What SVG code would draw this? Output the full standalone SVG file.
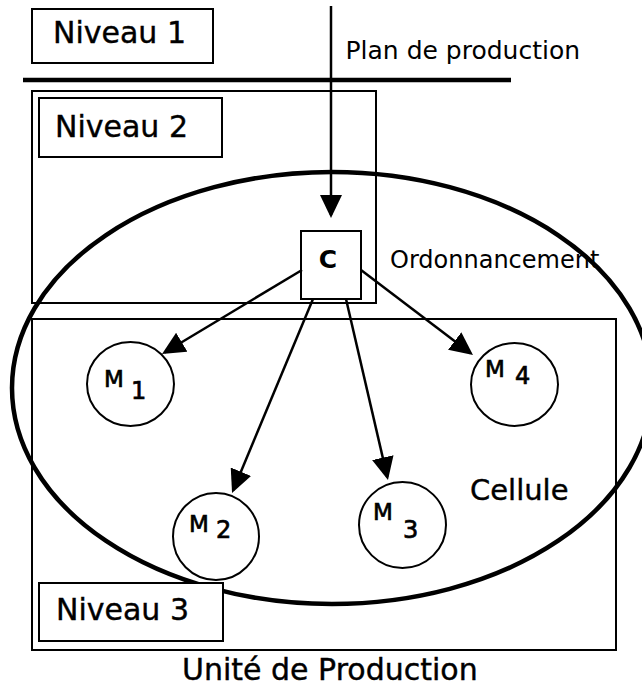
<svg xmlns="http://www.w3.org/2000/svg" width="642" height="688" viewBox="0 0 642 688">
<style>
text { font-family: "DejaVu Sans", "Verdana", sans-serif; fill: #000; }
.box { fill: none; stroke: #000; stroke-width: 2; }
.lbl { fill: #fff; stroke: #000; stroke-width: 2; }
.lvl { font-size: 30px; stroke: #000; stroke-width: 0.4; }
.big { stroke: #000; stroke-width: 0.4; }
.mc { fill: #fff; stroke: #000; stroke-width: 2; }
.ml { stroke: #000; stroke-width: 0.7; }
.mm { font-size: 23px; }
.md { font-size: 24px; }
.conn { stroke: #000; stroke-width: 2.5; fill: none; marker-end: url(#ah); }
</style>
<defs>
<marker id="ah" viewBox="0 0 23 22" markerWidth="23" markerHeight="22" markerUnits="userSpaceOnUse" refX="20" refY="11" orient="auto">
<path d="M0,0 L23,11 L0,22 z" fill="#000"/>
</marker>
</defs>
<rect width="642" height="688" fill="#fff"/>

<g id="niveau1">
<rect class="lbl" x="32" y="9" width="181" height="54"/>
<text class="lvl" x="53" y="43">Niveau 1</text>
</g>

<g id="separator">
<line x1="23" y1="80" x2="511" y2="80" stroke="#000" stroke-width="4.5"/>
</g>

<g id="plan-label">
<text x="345.5" y="59" font-size="25">Plan de production</text>
</g>

<g id="niveau2">
<rect class="box" x="32" y="91" width="344" height="212"/>
<rect class="lbl" x="39" y="98" width="183" height="59"/>
<text class="lvl" x="55" y="137">Niveau 2</text>
</g>

<g id="niveau3">
<rect class="box" x="32" y="319" width="584" height="331"/>
</g>

<g id="cellule">
<ellipse cx="332" cy="388" rx="320" ry="216" fill="none" stroke="#000" stroke-width="4.5"/>
<text class="big" x="470" y="500" font-size="29">Cellule</text>
</g>

<g id="niveau3-label">
<rect class="lbl" x="39" y="583" width="184" height="58"/>
<text class="lvl" x="56" y="620">Niveau 3</text>
</g>

<g id="unite-label">
<text class="big" x="182" y="680" font-size="30">Unité de Production</text>
</g>

<g id="controller">
<rect class="lbl" x="301" y="231" width="60" height="68"/>
<text x="328" y="268" font-size="25" font-weight="bold" text-anchor="middle">C</text>
</g>

<g id="ordo-label">
<text x="390" y="268" font-size="24">Ordonnancement</text>
</g>

<g id="connectors">
<line class="conn" x1="331" y1="6" x2="331" y2="215"/>
<line class="conn" x1="302" y1="270" x2="164.6" y2="352.5"/>
<line class="conn" x1="313" y1="299" x2="233.2" y2="490.2"/>
<line class="conn" x1="346" y1="299" x2="387.3" y2="477.1"/>
<line class="conn" x1="361" y1="270" x2="470.6" y2="353.2"/>
</g>

<g id="m1">
<ellipse class="mc" cx="130.5" cy="384" rx="43.5" ry="42"/>
<text class="ml"><tspan class="mm" x="104" y="387">M</tspan><tspan class="md" x="131" y="399">1</tspan></text>
</g>

<g id="m2">
<ellipse class="mc" cx="216" cy="536.5" rx="43" ry="43.5"/>
<text class="ml"><tspan class="mm" x="189" y="532">M</tspan><tspan class="md" x="216" y="538">2</tspan></text>
</g>

<g id="m3">
<ellipse class="mc" cx="402.5" cy="525" rx="43.5" ry="43"/>
<text class="ml"><tspan class="mm" x="373" y="520">M</tspan><tspan class="md" x="403" y="538">3</tspan></text>
</g>

<g id="m4">
<ellipse class="mc" cx="514.5" cy="384.5" rx="43.5" ry="41.5"/>
<text class="ml"><tspan class="mm" x="485" y="377">M</tspan><tspan class="md" x="515" y="384">4</tspan></text>
</g>
</svg>
